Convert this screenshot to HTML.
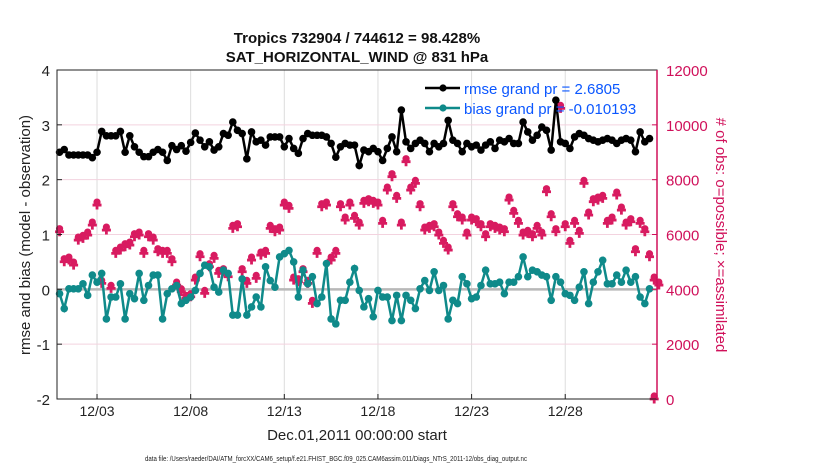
<!DOCTYPE html>
<html><head><meta charset="utf-8"><style>
body{margin:0;background:#fff;}
svg text{font-family:"Liberation Sans",sans-serif;}
</style></head><body>
<svg id="chart" width="830" height="470" xmlns="http://www.w3.org/2000/svg">
<rect width="830" height="470" fill="#fff"/>
<g id="grid"></g>
<g id="series"></g>
<g id="axes"></g>
</svg>
<script>
const rmse=[2.5,2.55,2.45,2.45,2.45,2.45,2.45,2.4,2.5,2.88,2.8,2.8,2.8,2.88,2.5,2.8,2.6,2.5,2.42,2.42,2.5,2.55,2.5,2.35,2.62,2.55,2.62,2.52,2.68,2.85,2.72,2.6,
2.69,2.54,2.6,2.84,2.81,3.05,2.9,2.84,2.38,2.87,2.69,2.72,2.63,2.78,2.78,2.78,2.6,2.75,2.57,2.48,2.75,2.84,2.81,2.81,2.81,2.78,2.66,2.41,2.6,2.66,
2.63,2.63,2.26,2.54,2.51,2.57,2.51,2.35,2.57,2.78,2.51,3.27,2.69,2.57,2.66,2.72,2.66,2.51,2.66,2.6,2.66,3.08,2.72,2.66,2.51,2.66,2.6,2.63,2.54,2.63,2.69,
2.57,2.72,2.69,2.75,2.66,2.66,3.05,2.87,2.72,2.81,2.96,2.9,2.54,3.45,2.69,2.66,2.57,2.78,2.84,2.81,2.75,2.72,2.69,2.72,2.75,2.72,2.66,2.72,2.75,2.72,2.51,2.87,2.69,2.75];
const bias=[-0.08,-0.35,0.01,0.01,0.01,0.10,-0.11,0.26,0.13,0.29,-0.54,-0.14,-0.14,0.10,-0.54,-0.08,-0.17,0.29,-0.20,0.07,0.26,0.26,-0.54,-0.08,0.01,0.07,-0.26,-0.20,-0.14,-0.02,0.29,0.44,
0.41,0.04,-0.05,0.35,0.29,-0.47,-0.47,0.19,-0.47,-0.32,-0.14,-0.32,0.41,0.16,0.04,0.59,0.65,0.71,0.50,-0.14,0.35,0.10,0.23,-0.26,-0.14,0.47,-0.54,-0.63,-0.20,-0.20,
0.13,0.38,-0.02,-0.32,-0.17,-0.50,-0.02,-0.14,-0.14,-0.57,-0.11,-0.57,-0.11,-0.20,-0.35,0.01,0.16,-0.02,0.32,-0.02,0.07,-0.54,-0.20,-0.26,0.23,0.10,-0.17,-0.14,0.07,0.35,0.10,
0.10,0.13,-0.08,0.13,0.13,0.23,0.59,0.23,0.35,0.32,0.26,0.23,-0.20,0.23,0.13,-0.08,-0.11,-0.20,0.04,0.32,-0.26,0.13,0.32,0.53,0.10,0.10,0.26,0.13,0.35,0.13,0.23,-0.14,-0.26,0.01];
const nobs=[6101,5007,5068,4885,5797,5858,5980,6344,7074,4216,6162,4034,5311,5433,5554,5615,5919,5980,5311,5919,5797,5372,5311,5311,5007,4156,3912,3669,3730,4338,5189,
3852,4824,5128,4581,4642,4460,6223,6284,4642,4216,5068,4399,5250,5311,6223,6101,6162,7074,6952,4338,4277,4642,4216,3487,5311,7013,7074,5068,5311,7013,6527,
7074,6588,6344,7135,7196,7135,7074,6405,7621,8108,7317,6344,8655,7621,7864,7013,6162,6223,6284,5980,5676,5433,7013,6648,6527,5980,6527,6466,6284,5919,6284,6223,
6162,6101,7256,6770,6405,5980,6040,5919,6223,5980,7560,6648,6101,10600,6284,5676,6405,6040,7864,6709,7196,7256,7317,6405,6527,7439,6891,6344,6466,5372,6405,6101,5189,4338,4156,0];
const xTickDays=[3,8,13,18,23,28];
const xTickLabels=["12/03","12/08","12/13","12/18","12/23","12/28"];
const yLeftTicks=[4,3,2,1,0,-1,-2];
const yRightTicks=[0,2000,4000,6000,8000,10000,12000];

const L=57,R=657,T=70,B=399,D0=0.863,D1=32.9;
const NS="http://www.w3.org/2000/svg";
const xs=d=>L+(d-D0)/(D1-D0)*(R-L);
const yl=v=>B-(v+2)/6*(B-T);
const yr=v=>B-v/12000*(B-T);
const day=i=>1+i*0.25;
function mk(tag,attrs,parent){const e=document.createElementNS(NS,tag);for(const k in attrs)e.setAttribute(k,attrs[k]);parent.appendChild(e);return e;}
const grid=document.getElementById('grid'),ser=document.getElementById('series'),ax=document.getElementById('axes');
xTickDays.forEach((d,i)=>{
  const g=mk('line',{x1:xs(d),x2:xs(d),y1:T,y2:B,stroke:'#dcdcdc','stroke-width':1},grid);
  
  
  mk('line',{x1:xs(d),x2:xs(d),y1:B,y2:B-5,stroke:'#222'},ax);
  const t=mk('text',{x:xs(d),y:416,'text-anchor':'middle','font-size':14,fill:'#222'},ax);
  t.textContent=xTickLabels[i];
  
  
});
yRightTicks.forEach(v=>{
  if(v>0&&v<12000){const g=mk('line',{x1:L,x2:R,y1:yr(v),y2:yr(v),stroke:'#f3d3df','stroke-width':1},grid);
  
  }
  mk('line',{x1:R,x2:R-5,y1:yr(v),y2:yr(v),stroke:'#d0105a'},ax);
  const t=mk('text',{x:666,y:yr(v)+6,'font-size':15,fill:'#d0105a'},ax);
  t.textContent=v;
  
  
});
yLeftTicks.forEach(v=>{
  mk('line',{x1:L,x2:L+5,y1:yl(v),y2:yl(v),stroke:'#222'},ax);
  const t=mk('text',{x:50,y:yl(v)+6,'text-anchor':'end','font-size':15,fill:'#222'},ax);
  t.textContent=v;
  
  
});
const z=mk('line',{x1:L,x2:R,y1:yl(0),y2:yl(0),stroke:'#b8b8b8','stroke-width':2.5},grid);


nobs.forEach((v,i)=>{
  const d=i===nobs.length-1?32.75:day(i);
  const g=mk('g',{},ser);
  
  
  const x=xs(d),y=yr(v);
  mk('circle',{cx:x,cy:y-3,r:3.6,fill:'#d81b60'},g);
  mk('path',{d:`M${x-4.5} ${y}H${x+4.5}M${x} ${y-4.5}V${y+4.5}`,stroke:'#d81b60','stroke-width':2.8},g);
});
function line(arr,color,name){
  const pts=arr.map((v,i)=>xs(day(i)).toFixed(1)+','+yl(v).toFixed(1)).join(' ');
  const p=mk('polyline',{points:pts,fill:'none',stroke:color,'stroke-width':2.5},ser);
  
  
  arr.forEach((v,i)=>{const c=mk('circle',{cx:xs(day(i)),cy:yl(v),r:3.8,fill:color},ser);
    
    });
}
line(bias,'#0f8a8a','bias');
line(rmse,'#000','rmse');
mk('rect',{x:L,y:T,width:R-L,height:B-T,fill:'none',stroke:'#222','stroke-width':1},ax);
mk('line',{x1:R,x2:R,y1:T,y2:B,stroke:'#d0105a','stroke-width':1.5},ax);
</script>
<svg style="position:absolute;left:0;top:0" width="830" height="470" xmlns="http://www.w3.org/2000/svg">
<text x="357" y="43" text-anchor="middle" font-size="15" font-weight="bold" fill="#111" font-family="Liberation Sans, sans-serif">Tropics 732904 / 744612 = 98.428%</text>
<text x="357" y="62" text-anchor="middle" font-size="15" font-weight="bold" fill="#111" font-family="Liberation Sans, sans-serif">SAT_HORIZONTAL_WIND @ 831 hPa</text>
<g font-family="Liberation Sans, sans-serif">
<line x1="425" x2="460" y1="88" y2="88" stroke="#000" stroke-width="2.5"/><circle cx="443" cy="88" r="3.6" fill="#000"/>
<text x="464" y="94" font-size="15" fill="#0b57ff">rmse grand pr = 2.6805</text>
<line x1="425" x2="460" y1="108" y2="108" stroke="#0f8a8a" stroke-width="2.5"/><circle cx="443" cy="108" r="3.6" fill="#0f8a8a"/>
<text x="464" y="114" font-size="15" fill="#0b57ff">bias grand pr = -0.010193</text>
</g>
<text transform="translate(30,235) rotate(-90)" text-anchor="middle" font-size="15" fill="#222" font-family="Liberation Sans, sans-serif">rmse and bias (model - observation)</text>
<text transform="translate(716,235) rotate(90)" text-anchor="middle" font-size="15" fill="#d0105a" font-family="Liberation Sans, sans-serif"># of obs: o=possible; ×=assimilated</text>
<text x="357" y="440" text-anchor="middle" font-size="15" fill="#222" font-family="Liberation Sans, sans-serif">Dec.01,2011 00:00:00 start</text>
<text x="145" y="461" textLength="382" lengthAdjust="spacingAndGlyphs" font-size="7" fill="#222" font-family="Liberation Sans, sans-serif">data file: /Users/raeder/DAI/ATM_forcXX/CAM6_setup/f.e21.FHIST_BGC.f09_025.CAM6assim.011/Diags_NTrS_2011-12/obs_diag_output.nc</text>
</svg>
</body></html>
